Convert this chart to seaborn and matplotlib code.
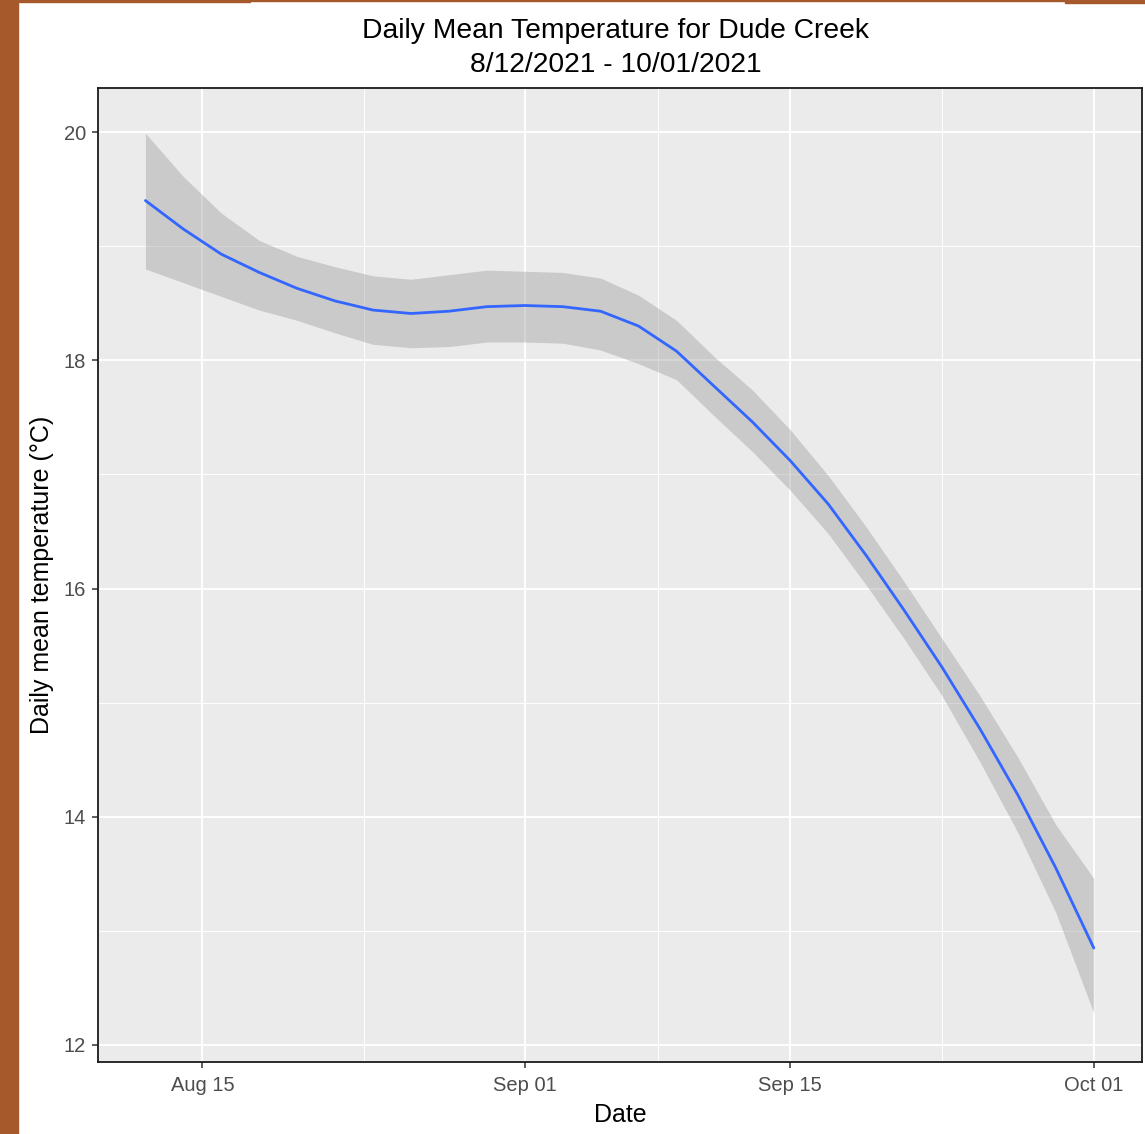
import matplotlib
matplotlib.use("Agg")
import matplotlib.pyplot as plt
import matplotlib.dates as mdates
from matplotlib.patches import Rectangle
import pandas as pd
import seaborn as sns

# smoothed daily mean temperature (loess fit) with its confidence band
datas = ["2021-08-12", "2021-08-14", "2021-08-16", "2021-08-18", "2021-08-20",
         "2021-08-22", "2021-08-24", "2021-08-26", "2021-08-28", "2021-08-30",
         "2021-09-01", "2021-09-03", "2021-09-05", "2021-09-07", "2021-09-09",
         "2021-09-11", "2021-09-13", "2021-09-15", "2021-09-17", "2021-09-19",
         "2021-09-21", "2021-09-23", "2021-09-25", "2021-09-27", "2021-09-29",
         "2021-10-01"]
temp_media = [19.40, 19.15, 18.93, 18.77, 18.63, 18.52, 18.44, 18.41, 18.43, 18.47,
              18.48, 18.47, 18.43, 18.30, 18.08, 17.77, 17.46, 17.12, 16.74, 16.29,
              15.81, 15.31, 14.77, 14.19, 13.55, 12.85]
ic_superior = [19.99, 19.61, 19.29, 19.05, 18.91, 18.82, 18.74, 18.71, 18.75, 18.79,
               18.78, 18.77, 18.72, 18.57, 18.35, 18.03, 17.74, 17.39, 16.99, 16.54,
               16.06, 15.56, 15.06, 14.52, 13.93, 13.46]
ic_inferior = [18.80, 18.68, 18.56, 18.44, 18.35, 18.24, 18.14, 18.11, 18.12, 18.16,
               18.16, 18.15, 18.09, 17.97, 17.83, 17.51, 17.20, 16.86, 16.48, 16.03,
               15.56, 15.06, 14.48, 13.86, 13.16, 12.28]

y_ticks = [12, 14, 16, 18, 20]
y_minor = [13, 15, 17, 19]
x_ticks = ["2021-08-15 00:00", "2021-09-01 00:00", "2021-09-15 00:00", "2021-10-01 00:00"]
x_minor = ["2021-08-23 12:00", "2021-09-08 00:00", "2021-09-23 00:00"]

df = pd.DataFrame({"data": pd.to_datetime(datas), "temp": temp_media,
                   "sup": ic_superior, "inf": ic_inferior})

sns.set_style("darkgrid", {"axes.facecolor": "#EBEBEB", "grid.color": "white",
                           "axes.edgecolor": "#1A1A1A"})
plt.rcParams["font.family"] = ["Liberation Sans", "DejaVu Sans"]

fig = plt.figure(figsize=(11.45, 11.34), dpi=100)
ax = fig.add_axes([98 / 1145, 1 - 1062 / 1134, (1142 - 98) / 1145, (1062 - 88) / 1134])

# borda marrom do print original
fig.patches.append(Rectangle((0, 0), 18 / 1145, 1, transform=fig.transFigure,
                             color="#A65A2C", zorder=0))
fig.patches.append(Rectangle((0, 1 - 2 / 1134), 250 / 1145, 2 / 1134,
                             transform=fig.transFigure, color="#A65A2C", zorder=0))
fig.patches.append(Rectangle((250 / 1145, 1 - 1 / 1134), 815 / 1145, 1 / 1134,
                             transform=fig.transFigure, color="#A65A2C", zorder=0))
fig.patches.append(Rectangle((1065 / 1145, 1 - 3 / 1134), 80 / 1145, 3 / 1134,
                             transform=fig.transFigure, color="#A65A2C", zorder=0))

ax.fill_between(df["data"], df["inf"], df["sup"], color="#999999", alpha=0.4,
                linewidth=0, zorder=2)
sns.lineplot(data=df, x="data", y="temp", color="#3366FF", linewidth=2.0, ax=ax,
             zorder=3)

ax.set_xlim(pd.Timestamp("2021-08-09 12:00"), pd.Timestamp("2021-10-03 13:00"))
ax.set_ylim(11.851, 20.386)

ax.set_yticks(y_ticks)
ax.set_yticks(y_minor, minor=True)
ax.set_xticks(pd.to_datetime(x_ticks))
ax.set_xticks(pd.to_datetime(x_minor), minor=True)
ax.xaxis.set_major_formatter(mdates.DateFormatter("%b %d"))

ax.grid(which="major", color="white", linewidth=1.4)
ax.grid(which="minor", color="white", linewidth=0.7)
ax.tick_params(axis="both", which="major", length=4, width=1.1, color="#333333",
               labelcolor="#4D4D4D", labelsize=14.5, bottom=True, left=True)
ax.tick_params(axis="x", which="major", pad=6)
ax.tick_params(axis="y", which="major", pad=4.5)
ax.tick_params(which="minor", length=0)
for s in ax.spines.values():
    s.set_linewidth(1.3)
    s.set_color("#1A1A1A")

ax.set_xlabel("Date", fontsize=18, labelpad=6, color="black")
ax.set_ylabel("Daily mean temperature (°C)", fontsize=18, labelpad=7, color="black")

fig.text(616 / 1145, 1 - 48 / 1134,
         "Daily Mean Temperature for Dude Creek\n8/12/2021 - 10/01/2021",
         ha="center", va="center", fontsize=20.3, linespacing=1.38, color="black")

fig.savefig("out.png", dpi=100)
